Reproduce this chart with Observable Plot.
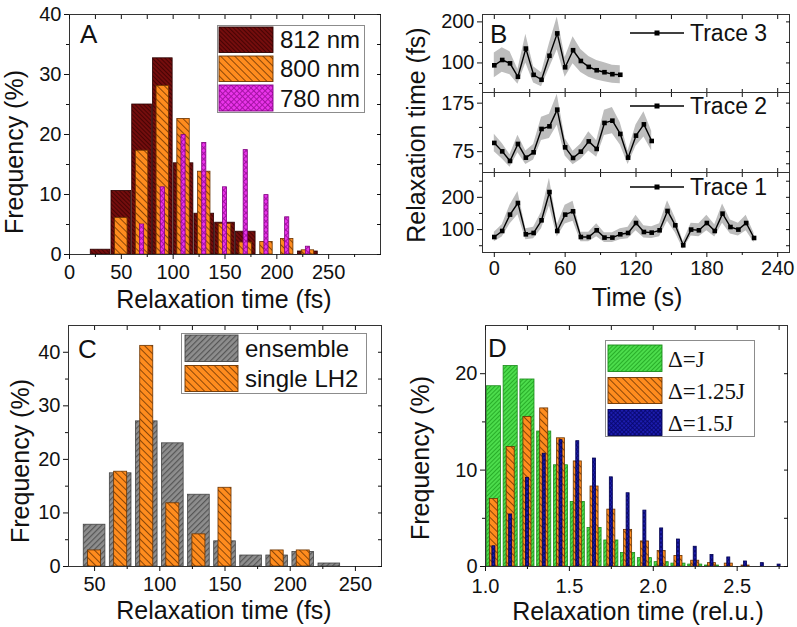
<!DOCTYPE html>
<html><head><meta charset="utf-8">
<script src="https://cdn.jsdelivr.net/npm/d3@7"></script>
<script src="https://cdn.jsdelivr.net/npm/@observablehq/plot@0.6"></script>
<style>
body{margin:0;background:#fff;}
#fig{position:relative;width:797px;height:627px;overflow:hidden;background:#fff;font-family:"Liberation Sans",Arial,sans-serif;color:#111;}
#fig svg{overflow:visible;}
.t{position:absolute;white-space:nowrap;font-size:25px;line-height:1;transform:translate(-50%,-50%);}
.ty{position:absolute;white-space:nowrap;font-size:25px;line-height:1;transform:translate(-50%,-50%) rotate(-90deg);}
.lab{position:absolute;font-size:26px;line-height:1;}
</style></head>
<body><div id="fig"></div>
<script>
// ---------- data ----------
// Panel A
const binsA = [30,50,70,90,110,130,150,170,190,210,230];
const freqA812 = [0.8,10.6,25.0,32.7,15.2,6.8,5.3,3.8,0,0,0.5];
const freqA800 = [0,6.1,17.3,28.1,22.6,13.8,5.1,2.0,2.1,2.6,0.7];
const freqA780 = [0,0,5.0,11.2,19.9,18.6,11.2,17.4,9.9,6.2,1.3];
const seriesA = ["812 nm","800 nm","780 nm"];
const ticksAx = [0,50,100,150,200,250], minorAx = [25,75,125,175,225,275];
const ticksAy = [0,10,20,30,40], minorAy = [5,15,25,35];

// Panel B
const timesB = [0,6.7,13.3,20,26.7,33.3,40,46.7,53.3,60,66.7,73.3,80,86.7,93.3,100,106.7,113.3,120,126.7,133.3,140,146.7,153.3,160,166.7,173.3,180,186.7,193.3,200,206.7,213.3,220];
const trace3 = [94.2,107.2,99,66.3,135,71,59,117.5,172,89.4,131,104.8,90.4,82.2,77.4,72.6,71.2];
const err3 = [30,30,28,18,35,20,17,30,40,24,33,28,25,24,23,22,22];
const trace2 = [93,75.6,55.8,90.9,62.6,73.6,121.8,127.2,161.6,83.9,62,75,96.2,80.6,134.2,138.9,111.5,62.6,108,131.3,97];
const err2 = [18,16,13,18,14,16,24,25,32,18,14,16,20,17,26,27,23,14,22,26,20];
const trace1 = [77,95.7,146.4,182.4,85.4,89.5,128.8,216.4,95.7,146.4,156.7,77,77,97.8,75.2,75.2,85.4,89.5,120.4,92.6,90.6,97.8,157.8,113.3,51.4,100,97.8,120.4,95.7,149.5,108,100,120.4,74];
const err1 = [15,19,29,36,17,18,26,43,19,29,31,15,15,20,15,15,17,18,24,19,18,20,32,23,12,20,20,24,19,30,22,20,24,15];
const tracesB = ["Trace 3","Trace 2","Trace 1"];
const ticksBx = [0,60,120,180,240], minorBx = [30,90,150,210];

// Panel C
const binsC = [50,70,90,110,130,150,170,190,210,230];
const freqEnsemble = [7.8,17.4,27.1,23.0,13.4,4.7,2.05,2.05,2.7,0.56];
const freqSingle = [3.0,17.7,41.2,11.8,6.0,14.7,0,3.0,3.0,0];
const seriesC = ["ensemble","single LH2"];
const ticksCx = [50,100,150,200,250], minorCx = [75,125,175,225];
const ticksCy = [0,10,20,30,40], minorCy = [5,15,25,35];

// Panel D
const binsD = [1.05,1.15,1.25,1.35,1.45,1.55,1.65,1.75,1.85,1.95,2.05,2.15,2.25,2.35,2.45,2.55,2.65,2.75];
const freqDJ   = [18.7,20.8,19.4,14.0,10.5,6.7,4.0,2.7,1.4,0.87,0.45,0.3,0.2,0.1,0,0,0,0];
const freqD125 = [7.0,12.4,15.5,16.4,13.3,10.9,8.3,5.9,3.8,2.6,1.6,1.1,0.6,0.35,0.3,0.1,0,0];
const freqD15  = [2.1,5.4,9.2,11.7,13.1,13.0,11.2,9.25,7.6,5.8,3.95,2.8,2.05,1.2,0.94,0.52,0.35,0.2];
const seriesD = ["Δ=J","Δ=1.25J","Δ=1.5J"];
const ticksDx = [1.0,1.5,2.0,2.5], minorDx = [1.25,1.75,2.25,2.75];
const ticksDy = [0,10,20], minorDy = [5,15];

// ---------- rendering ----------
const fig = document.getElementById("fig");
fig.insertAdjacentHTML("beforeend", `
<svg width="0" height="0" style="position:absolute;left:0;top:0"><defs>
<pattern id="pMaroon" patternUnits="userSpaceOnUse" width="3" height="3" patternTransform="rotate(-45)"><rect width="3" height="3" fill="#740d0d"/><rect width="1" height="3" fill="#470404"/></pattern>
<pattern id="pOrange" patternUnits="userSpaceOnUse" width="5" height="5" patternTransform="rotate(-45)"><rect width="5" height="5" fill="#ff8c1e"/><rect width="1" height="5" fill="#8a4608"/></pattern>
<pattern id="pMagenta" patternUnits="userSpaceOnUse" width="4" height="4" patternTransform="rotate(45)"><rect width="4" height="4" fill="#ea34ea"/><rect width="0.9" height="4" fill="#a010a0"/><rect width="4" height="0.9" fill="#a010a0"/></pattern>
<pattern id="pGray" patternUnits="userSpaceOnUse" width="4" height="4" patternTransform="rotate(45)"><rect width="4" height="4" fill="#8e8e8e"/><rect width="1.2" height="4" fill="#565656"/></pattern>
<pattern id="pGreen" patternUnits="userSpaceOnUse" width="3" height="3" patternTransform="rotate(45)"><rect width="3" height="3" fill="#4cdc4c"/><rect width="0.9" height="3" fill="#23a823"/></pattern>
<pattern id="pBlue" patternUnits="userSpaceOnUse" width="3" height="3" patternTransform="rotate(45)"><rect width="3" height="3" fill="#1c1cae"/><rect width="0.8" height="3" fill="#06066c"/><rect width="3" height="0.8" fill="#06066c"/></pattern>
</defs></svg>`);

function put(node, left, top) {
  node.style.position = "absolute";
  node.style.left = left + "px";
  node.style.top = top + "px";
  fig.appendChild(node);
  return node;
}
const STYLE = {fontFamily: '"Liberation Sans", Arial, sans-serif', fontSize: "20px", color: "#111", background: "transparent", overflow: "visible"};
const none = () => "";

function frameAxes({xt, xm, yt, ym, xfmt, yfmt, xLab = true, bottomIn = false, xPad = 5}) {
  return [
    Plot.frame({stroke: "#333", strokeWidth: 1}),
    Plot.axisX({ticks: xt, anchor: "bottom", tickSize: bottomIn ? -4 : 5, tickPadding: xPad, label: null, tickFormat: xLab ? xfmt : none}),
    Plot.axisX({ticks: xm, anchor: "bottom", tickSize: bottomIn ? -3 : 3, label: null, tickFormat: none}),
    Plot.axisX({ticks: xt.concat(xm), anchor: "top", tickSize: -4, label: null, tickFormat: none}),
    Plot.axisY({ticks: yt, anchor: "left", tickSize: 5, tickPadding: 3, label: null, tickFormat: yfmt}),
    Plot.axisY({ticks: ym, anchor: "left", tickSize: 3, label: null, tickFormat: none}),
    Plot.axisY({ticks: yt.concat(ym), anchor: "right", tickSize: -4, label: null, tickFormat: none})
  ];
}
function bars(bins, vals, half, fill, stroke) {
  const rows = bins.map((c, i) => ({c, v: vals[i]})).filter(d => d.v > 0);
  return Plot.rect(rows, {x1: d => d.c - half, x2: d => d.c + half, y1: () => 0, y2: "v", fill, stroke, strokeWidth: 0.8});
}
function text(cls, str, x, y, extra) {
  const d = document.createElement("div");
  d.className = cls; d.textContent = str;
  d.style.left = x + "px"; d.style.top = y + "px";
  if (extra) Object.assign(d.style, extra);
  fig.appendChild(d);
}
function legendBox(left, top, w, h, items, font, size) {
  const svg = d3.create("svg").attr("width", w).attr("height", h)
    .style("position", "absolute").style("left", left + "px").style("top", top + "px").style("overflow", "visible");
  svg.append("rect").attr("x", 0.5).attr("y", 0.5).attr("width", w - 1).attr("height", h - 1).attr("fill", "#fff").attr("stroke", "#8c8c8c");
  for (const it of items) {
    svg.append("rect").attr("x", it.x0).attr("y", it.y0).attr("width", it.x1 - it.x0).attr("height", it.y1 - it.y0)
      .attr("fill", it.fill).attr("stroke", it.stroke).attr("stroke-width", 0.9);
    svg.append("text").attr("x", it.tx).attr("y", (it.y0 + it.y1) / 2 + size * 0.36)
      .attr("font-family", font).attr("font-size", size).attr("fill", "#111").text(it.label);
  }
  fig.appendChild(svg.node());
}

// Panel A
put(Plot.plot({
  width: 400, height: 320, marginLeft: 69, marginRight: 20, marginTop: 14, marginBottom: 66,
  x: {domain: [0, 300]}, y: {domain: [0, 40]}, style: STYLE,
  marks: [
    bars(binsA, freqA812, 9.5, "url(#pMaroon)", "#2b0000"),
    bars(binsA, freqA800, 6, "url(#pOrange)", "#6a3300"),
    bars(binsA, freqA780, 2, "url(#pMagenta)", "#800080"),
    ...frameAxes({xt: ticksAx, xm: minorAx, yt: ticksAy, ym: minorAy})
  ]
}), 0, 0);

// Panel B
function tracePlot(vals, errs, domain, yt, ym, top, h, mt, mb, last) {
  const rows = vals.map((v, i) => ({t: timesB[i], v, lo: v - errs[i], hi: v + errs[i]}));
  put(Plot.plot({
    width: 397, height: h, marginLeft: 82, marginRight: 8, marginTop: mt, marginBottom: mb,
    x: {domain: [-10, 250]}, y: {domain}, style: STYLE,
    marks: [
      Plot.areaY(rows, {x: "t", y1: "lo", y2: "hi", fill: "#bdbdbd"}),
      Plot.lineY(rows, {x: "t", y: "v", stroke: "#000", strokeWidth: 1.4}),
      Plot.dot(rows, {x: "t", y: "v", symbol: "square", r: 2.6, fill: "#000", stroke: "none"}),
      ...frameAxes({xt: ticksBx, xm: minorBx, yt, ym, xLab: last, bottomIn: !last, xPad: 3})
    ]
  }), 400, top);
}
tracePlot(trace3, err3, [28, 218], [100, 200], [50, 150], 0, 96, 14, 4, false);
tracePlot(trace2, err2, [32, 197], [75, 175], [50, 125], 88, 88, 4, 4, false);
tracePlot(trace1, err1, [29, 277], [100, 200], [50, 150, 250], 168, 132, 4, 48, true);

// Panel C
put(Plot.plot({
  width: 400, height: 312, marginLeft: 68, marginRight: 19, marginTop: 10, marginBottom: 61,
  x: {domain: [30, 270]}, y: {domain: [0, 45]}, style: STYLE,
  marks: [
    bars(binsC, freqEnsemble, 8.3, "url(#pGray)", "#444"),
    bars(binsC, freqSingle, 5, "url(#pOrange)", "#6a3300"),
    ...frameAxes({xt: ticksCx, xm: minorCx, yt: ticksCy, ym: minorCy})
  ]
}), 0, 315);

// Panel D
put(Plot.plot({
  width: 397, height: 312, marginLeft: 85, marginRight: 10, marginTop: 10, marginBottom: 61,
  x: {domain: [1.0, 2.8]}, y: {domain: [0, 25]}, style: STYLE,
  marks: [
    bars(binsD, freqDJ, 0.042, "url(#pGreen)", "#1a8a1a"),
    bars(binsD, freqD125, 0.024, "url(#pOrange)", "#6a3300"),
    bars(binsD, freqD15, 0.009, "url(#pBlue)", "#000050"),
    ...frameAxes({xt: ticksDx, xm: minorDx, yt: ticksDy, ym: minorDy, xfmt: d3.format(".1f"), xPad: 7})
  ]
}), 400, 315);

// Titles and panel letters
text("ty", "Frequency (%)", 14, 152);
text("t", "Relaxation time (fs)", 224, 299);
text("ty", "Relaxation time (fs)", 416, 135);
text("t", "Time (s)", 637, 297);
text("ty", "Frequency (%)", 20, 461);
text("t", "Relaxation time (fs)", 224, 610);
text("ty", "Frequency (%)", 420, 458);
text("t", "Relaxation time (rel.u.)", 638, 611);
text("lab", "A", 80, 21);
text("lab", "B", 490, 21);
text("lab", "C", 78, 336);
text("lab", "D", 488, 335);

// Legends
const sans = '"Liberation Sans", Arial, sans-serif';
legendBox(217, 25, 148, 88, [
  {label: seriesA[0], fill: "url(#pMaroon)", stroke: "#2b0000", x0: 2, x1: 56, y0: 2, y1: 27.5, tx: 63},
  {label: seriesA[1], fill: "url(#pOrange)", stroke: "#6a3300", x0: 2, x1: 56, y0: 31, y1: 56.5, tx: 63},
  {label: seriesA[2], fill: "url(#pMagenta)", stroke: "#800080", x0: 2, x1: 56, y0: 60, y1: 86, tx: 63}
], sans, 24);
legendBox(181, 333, 186, 61, [
  {label: seriesC[0], fill: "url(#pGray)", stroke: "#444", x0: 4, x1: 57, y0: 2, y1: 28.5, tx: 64},
  {label: seriesC[1], fill: "url(#pOrange)", stroke: "#6a3300", x0: 4, x1: 57, y0: 32.5, y1: 58.5, tx: 64}
], sans, 24);
legendBox(605, 340, 150, 97, [
  {label: seriesD[0], fill: "url(#pGreen)", stroke: "#1a8a1a", x0: 3, x1: 57, y0: 5, y1: 31.5, tx: 63},
  {label: seriesD[1], fill: "url(#pOrange)", stroke: "#6a3300", x0: 3, x1: 57, y0: 37.5, y1: 63.5, tx: 63},
  {label: seriesD[2], fill: "url(#pBlue)", stroke: "#000050", x0: 3, x1: 57, y0: 69.5, y1: 95.5, tx: 63}
], '"Liberation Serif", "Times New Roman", serif', 23);

// Trace legends (line + square marker)
[[tracesB[0], 33], [tracesB[1], 106], [tracesB[2], 187]].forEach(([lab, y]) => {
  const s = d3.create("svg").attr("width", 150).attr("height", 24)
    .style("position", "absolute").style("left", "629px").style("top", (y - 12) + "px").style("overflow", "visible");
  s.append("line").attr("x1", 1).attr("x2", 55).attr("y1", 12).attr("y2", 12).attr("stroke", "#000").attr("stroke-width", 1.4);
  s.append("rect").attr("x", 25.5).attr("y", 9.5).attr("width", 5).attr("height", 5).attr("fill", "#000");
  s.append("text").attr("x", 61).attr("y", 12 + 23 * 0.36).attr("font-family", sans).attr("font-size", 23).attr("fill", "#111").text(lab);
  fig.appendChild(s.node());
});
</script>
</body></html>
